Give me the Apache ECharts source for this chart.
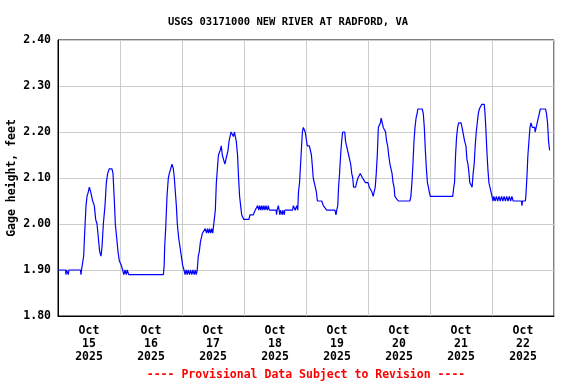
<!DOCTYPE html>
<html>
<head>
<meta charset="utf-8">
<script src="https://cdn.jsdelivr.net/npm/echarts@6/dist/echarts.min.js"></script>
<style>html,body{margin:0;padding:0;background:#fff;}#c{width:576px;height:384px;}</style>
</head>
<body>
<div id="c"></div>
<script>
// Hours since Oct 15 2025 00:00
const hours = [
0,2.9,3.1,3.3,3.8,4.0,4.2,8.7,8.9,9.1,9.55,9.93,10.32,10.84,11.23,11.74,12.13,12.5,12.65,13.0,13.42,14.06,14.58,15.1,15.61,16.13,16.65,17.03,17.55,18.19,18.71,19.23,19.87,20.9,21.29,21.81,22.19,22.71,23.23,23.74,24.52,25.03,25.5,25.94,26.4,26.8,27.35,
40.77,41.1,41.29,41.68,42.19,42.71,43.1,43.61,44.13,44.65,45.03,45.42,45.81,46.19,46.71,47.23,47.74,48.26,48.77,
49.2,49.6,50.0,50.4,50.9,51.3,51.8,52.2,52.7,53.1,53.5,53.9,54.3,54.7,55.1,55.5,55.9,56.5,57.0,57.5,57.9,58.3,58.7,59.1,59.5,59.9,60.1,60.5,60.9,61.3,61.7,62.1,62.4,62.8,63.2,63.6,64.1,64.6,65.0,65.4,65.8,66.2,66.6,67.0,67.5,67.9,68.3,68.6,69.0,69.5,69.9,70.3,70.7,71.1,71.5,71.9,73.9,74.3,75.6,76.3,76.9,77.3,77.7,78.1,78.5,78.9,79.3,79.7,80.1,80.5,81.0,81.4,81.8,84.4,84.6,84.8,85.3,85.9,86.1,86.8,87.0,87.6,87.8,90.8,91.1,91.8,92.4,92.8,93.1,93.5,93.9,
94.3,94.6,94.97,95.35,95.7,96.1,96.5,97.3,97.7,98.1,98.4,98.8,99.2,99.6,100.0,100.4,101.2,102.1,102.7,103.4,104.0,105.9,106.6,107.2,107.6,107.9,108.3,108.6,109.0,109.4,109.8,110.2,111.0,111.3,111.7,112.1,112.5,112.9,113.3,113.7,114.1,114.4,114.8,115.2,115.6,116.1,116.6,117.0,117.5,117.9,118.4,119.0,120.0,120.5,121.0,121.5,122.0,122.4,122.8,123.2,123.6,124.0,124.4,124.8,125.1,125.5,125.9,126.5,126.8,127.2,127.6,128.0,128.5,128.9,129.3,129.7,130.1,130.4,130.8,131.7,136.2,
136.6,137.0,137.4,137.8,138.2,138.6,139.0,139.3,141.0,141.4,141.8,142.2,142.6,143.0,143.4,143.7,144.1,152.8,153.2,153.5,153.9,154.3,154.7,155.1,156.0,156.4,156.9,157.4,157.9,158.3,158.7,159.1,159.4,160.0,160.3,160.7,161.1,161.5,161.9,162.3,162.7,163.1,164.0,165.0,165.3,165.6,166.0,166.4,166.8,167.2,167.6,168.0,168.4,
168.7,169.2,169.7,170.2,170.7,171.2,171.7,172.2,172.7,173.2,173.7,174.2,174.7,175.2,175.7,176.2,179.4,179.6,179.8,180.9,181.1,181.5,181.9,182.3,182.7,183.1,183.6,184.5,184.7,185.1,185.5,185.9,186.3,186.7,188.7,189.1,189.5,189.9,190.3
];
// Gage height, feet
const gageHeight = [
1.90,1.90,1.89,1.90,1.90,1.89,1.90,1.90,1.89,1.90,1.90,1.93,1.98,2.04,2.06,2.07,2.08,2.08,2.07,2.07,2.05,2.04,2.01,2.00,1.97,1.94,1.93,1.95,2.00,2.04,2.09,2.11,2.12,2.12,2.11,2.05,2.00,1.97,1.94,1.92,1.91,1.90,1.89,1.90,1.89,1.90,1.89,
1.89,1.91,1.95,1.99,2.06,2.10,2.11,2.12,2.13,2.12,2.10,2.07,2.04,2.00,1.97,1.95,1.93,1.91,1.90,
1.89,1.90,1.89,1.90,1.89,1.90,1.89,1.90,1.89,1.90,1.89,1.90,1.93,1.94,1.96,1.97,1.98,1.98,1.99,1.98,1.99,1.98,1.99,1.98,1.99,1.98,1.99,2.01,2.03,2.09,2.12,2.15,2.15,2.16,2.17,2.15,2.14,2.13,2.14,2.15,2.16,2.18,2.19,2.20,2.20,2.19,2.20,2.20,2.18,2.15,2.10,2.06,2.04,2.02,2.02,2.01,2.01,2.02,2.02,2.03,2.03,2.04,2.03,2.04,2.03,2.04,2.03,2.04,2.03,2.04,2.03,2.04,2.03,2.03,2.02,2.03,2.04,2.02,2.03,2.02,2.03,2.02,2.03,2.03,2.04,2.03,2.04,2.03,2.07,2.09,2.13,
2.17,2.20,2.21,2.21,2.20,2.20,2.17,2.17,2.16,2.15,2.13,2.10,2.10,2.08,2.07,2.05,2.05,2.05,2.04,2.04,2.03,2.03,2.03,2.03,2.02,2.03,2.04,2.08,2.11,2.15,2.18,2.20,2.20,2.18,2.17,2.16,2.15,2.14,2.13,2.11,2.10,2.08,2.08,2.08,2.09,2.10,2.10,2.11,2.11,2.10,2.10,2.09,2.09,2.08,2.08,2.07,2.06,2.06,2.08,2.11,2.15,2.21,2.21,2.22,2.23,2.23,2.21,2.21,2.20,2.18,2.17,2.15,2.13,2.12,2.11,2.09,2.08,2.06,2.06,2.05,2.05,
2.06,2.09,2.13,2.18,2.21,2.23,2.24,2.25,2.25,2.24,2.21,2.16,2.12,2.09,2.08,2.07,2.06,2.06,2.08,2.09,2.15,2.19,2.21,2.22,2.22,2.21,2.21,2.18,2.17,2.14,2.13,2.11,2.09,2.09,2.08,2.11,2.13,2.17,2.20,2.22,2.24,2.25,2.26,2.26,2.24,2.21,2.16,2.12,2.09,2.08,2.07,2.06,2.05,
2.06,2.05,2.06,2.05,2.06,2.05,2.06,2.05,2.06,2.05,2.06,2.05,2.06,2.05,2.06,2.05,2.05,2.04,2.05,2.05,2.06,2.10,2.15,2.18,2.21,2.22,2.21,2.21,2.20,2.21,2.22,2.23,2.24,2.25,2.25,2.24,2.22,2.18,2.16
];
const tickLabels = ['Oct\n15\n2025','Oct\n16\n2025','Oct\n17\n2025','Oct\n18\n2025','Oct\n19\n2025','Oct\n20\n2025','Oct\n21\n2025','Oct\n22\n2025'];
const titleText = 'USGS 03171000 NEW RIVER AT RADFORD, VA';
const yName = 'Gage height, feet';
const footerText = '---- Provisional Data Subject to Revision ----';

const FONT = '"DejaVu Sans Mono", "Liberation Mono", monospace';
const chart = echarts.init(document.getElementById('c'), null, {renderer: 'canvas'});
chart.setOption({
  animation: false,
  backgroundColor: '#fff',
  title: {
    text: titleText, left: 'center', top: 12,
    textStyle: {fontFamily: FONT, fontSize: 10.5, fontWeight: 'bold', color: '#000'}
  },
  grid: {left: 58, right: 22, top: 40, bottom: 68, show: true, borderColor: '#000', borderWidth: 1, backgroundColor: 'transparent', containLabel: false, outerBoundsMode: 'none'},
  xAxis: [
    {
      type: 'value', min: 0, max: 192, interval: 24,
      axisLine: {show: true, lineStyle: {color: '#000', width: 1}},
      axisTick: {show: false}, axisLabel: {show: false},
      splitLine: {show: true, lineStyle: {color: '#cccccc', width: 1}}
    },
    {
      type: 'category', position: 'bottom', data: tickLabels, boundaryGap: true,
      axisLine: {show: false}, axisTick: {show: false}, splitLine: {show: false},
      axisLabel: {margin: 9, fontFamily: FONT, fontSize: 11.5, fontWeight: 'bold', color: '#000', lineHeight: 13, interval: 0}
    }
  ],
  yAxis: {
    type: 'value', min: 1.8, max: 2.4, interval: 0.1,
    name: yName, nameLocation: 'middle', nameGap: 40, nameMoveOverlap: false,
    nameTextStyle: {fontFamily: FONT, fontSize: 11.5, fontWeight: 'bold', color: '#000'},
    axisLine: {show: true, lineStyle: {color: '#000', width: 1}},
    axisTick: {show: false},
    axisLabel: {margin: 7, fontFamily: FONT, fontSize: 11.5, fontWeight: 'bold', color: '#000', formatter: v => v.toFixed(2)},
    splitLine: {show: true, lineStyle: {color: '#cccccc', width: 1}}
  },
  graphic: [{
    type: 'text', x: 306, y: 375,
    style: {text: footerText, fill: '#ff0000', font: 'bold 11.5px ' + FONT, align: 'center', verticalAlign: 'middle'}
  }],
  series: [{
    type: 'line', xAxisIndex: 0, yAxisIndex: 0,
    data: hours.map((h, i) => [h, gageHeight[i]]),
    showSymbol: false, symbol: 'none',
    lineStyle: {color: '#0000ff', width: 1.2},
    z: 3
  }]
});
</script>
</body>
</html>
